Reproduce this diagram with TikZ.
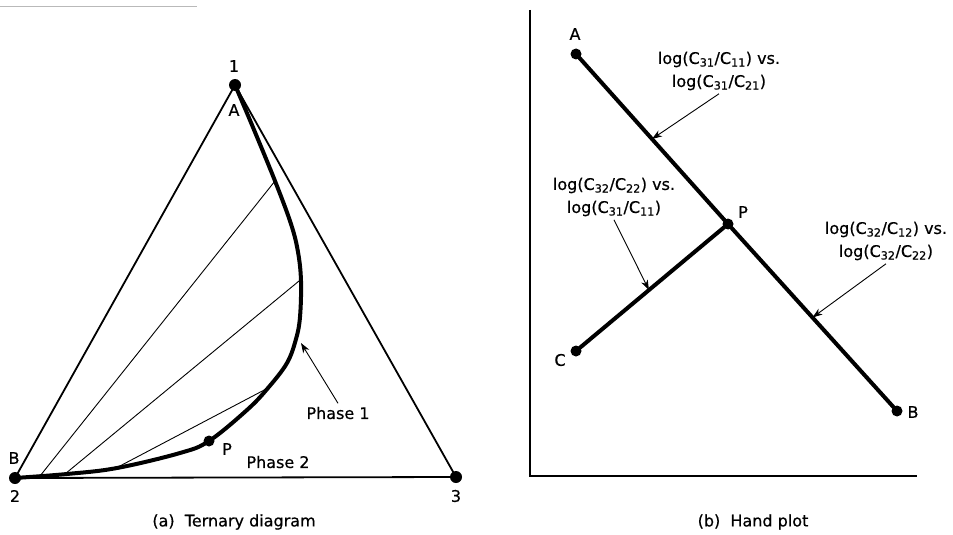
\documentclass[tikz,border=0pt]{standalone}
\usepackage{fontspec}
\setmainfont{DejaVu Sans}[FakeBold=0.5]
\usetikzlibrary{calc,arrows.meta}
\begin{document}
\begin{tikzpicture}[x=1pt, y=-1pt, % coordenadas en puntos, eje y hacia abajo
    font=\fontsize{16}{23}\selectfont,
    lado/.style={line width=1.8pt},
    grueso/.style={line width=4pt, line join=round, line cap=round},
    reparto/.style={line width=0.9pt},
    flecha/.style={-{Stealth[length=10pt, width=7pt, inset=3pt]}, line width=0.9pt}]

    \useasboundingbox (0,0) rectangle (953,535);

    % 0. Trazo suelto del borde de la página
    \draw[gray!55, line width=0.8pt] (0,6) -- (197,6);

    % 1. Triángulo ternario con sus vértices
    \coordinate (v1) at (235,85);
    \coordinate (v2) at (15,478);
    \coordinate (v3) at (456,477);
    \draw[lado] (v1) -- (v2) -- (v3) -- cycle;

    % 2. Rectas de reparto (finas)
    \coordinate (r1a) at (40,476);  \coordinate (r1b) at (275,181);
    \coordinate (r2a) at (65,474);  \coordinate (r2b) at (299,281);
    \coordinate (r3a) at (118,467); \coordinate (r3b) at (268,388);
    \draw[reparto] (r1a) -- (r1b);
    \draw[reparto] (r2a) -- (r2b);
    \draw[reparto] (r3a) -- (r3b);

    % 3. Curva binodal de A a B
    \draw[grueso] plot[smooth, tension=0.6] coordinates {(235,85) (252,125) (275,181)
        (291,224) (298,252) (301,281) (300,317) (296,339) (287,363) (268,388)
        (247,410) (209,441) (180,453) (117,468) (67,474) (15,478)};

    % 4. Puntos y etiquetas del triángulo
    \coordinate (pa) at (209,441);
    \fill (v1) circle (6pt);
    \fill (v2) circle (6pt);
    \fill (v3) circle (6pt);
    \fill (pa) circle (5.5pt);
    \node (n1) at (234,66) {1};
    \node (nA) at (234,110) {A};
    \node (nB) at (14,458) {B};
    \node (n2) at (15,496) {2};
    \node (n3) at (456,496) {3};
    \node (nP) at (227,449) {P};
    \node (fase1) at (338,413) {Phase 1};
    \node (fase2) at (278,462) {Phase 2};
    \coordinate (f1) at (301,343);
    \draw[flecha] (fase1.north) -- (f1);
    \node (pie1) at (234,522) {(a)\ \ Ternary diagram};

    % 5. Ejes del gráfico de la derecha
    \coordinate (ejey) at (530,10);
    \coordinate (origen) at (530,476);
    \coordinate (ejex) at (917,476);
    \draw[lado] (ejey) -- (origen) -- (ejex);

    % 6. Rectas A-P-B y C-P
    \coordinate (A) at (576,54);
    \coordinate (P) at (728,224);
    \coordinate (B) at (897,411);
    \coordinate (C) at (576,351);
    \draw[grueso] (A) -- (P) -- (B);
    \draw[grueso] (C) -- (P);
    \foreach \p in {A,P,B,C} {
        \fill (\p) circle (5.5pt);
    }
    \node (lA) at (575,34) {A};
    \node (lP) at (743,212) {P};
    \node (lB) at (913,412) {B};
    \node (lC) at (560,360) {C};

    % 7. Rótulos con flechas
    \node[align=center] (et1) at (719,71)
        {log(C\textsubscript{31}/C\textsubscript{11}) vs.\\log(C\textsubscript{31}/C\textsubscript{21})};
    \node[align=center] (et2) at (614,197)
        {log(C\textsubscript{32}/C\textsubscript{22}) vs.\\log(C\textsubscript{31}/C\textsubscript{11})};
    \node[align=center] (et3) at (886,241)
        {log(C\textsubscript{32}/C\textsubscript{12}) vs.\\log(C\textsubscript{32}/C\textsubscript{22})};
    \coordinate (m1) at ($(A)!0.5!(P)$);
    \coordinate (m2) at ($(C)!0.48!(P)$);
    \coordinate (m3) at ($(P)!0.5!(B)$);
    \draw[flecha] (et1.south) -- (m1);
    \draw[flecha] (et2.south) -- (m2);
    \draw[flecha] (et3.south) -- (m3);
    \node (pie2) at (753,522) {(b)\ \ Hand plot};

\end{tikzpicture}
\end{document}
